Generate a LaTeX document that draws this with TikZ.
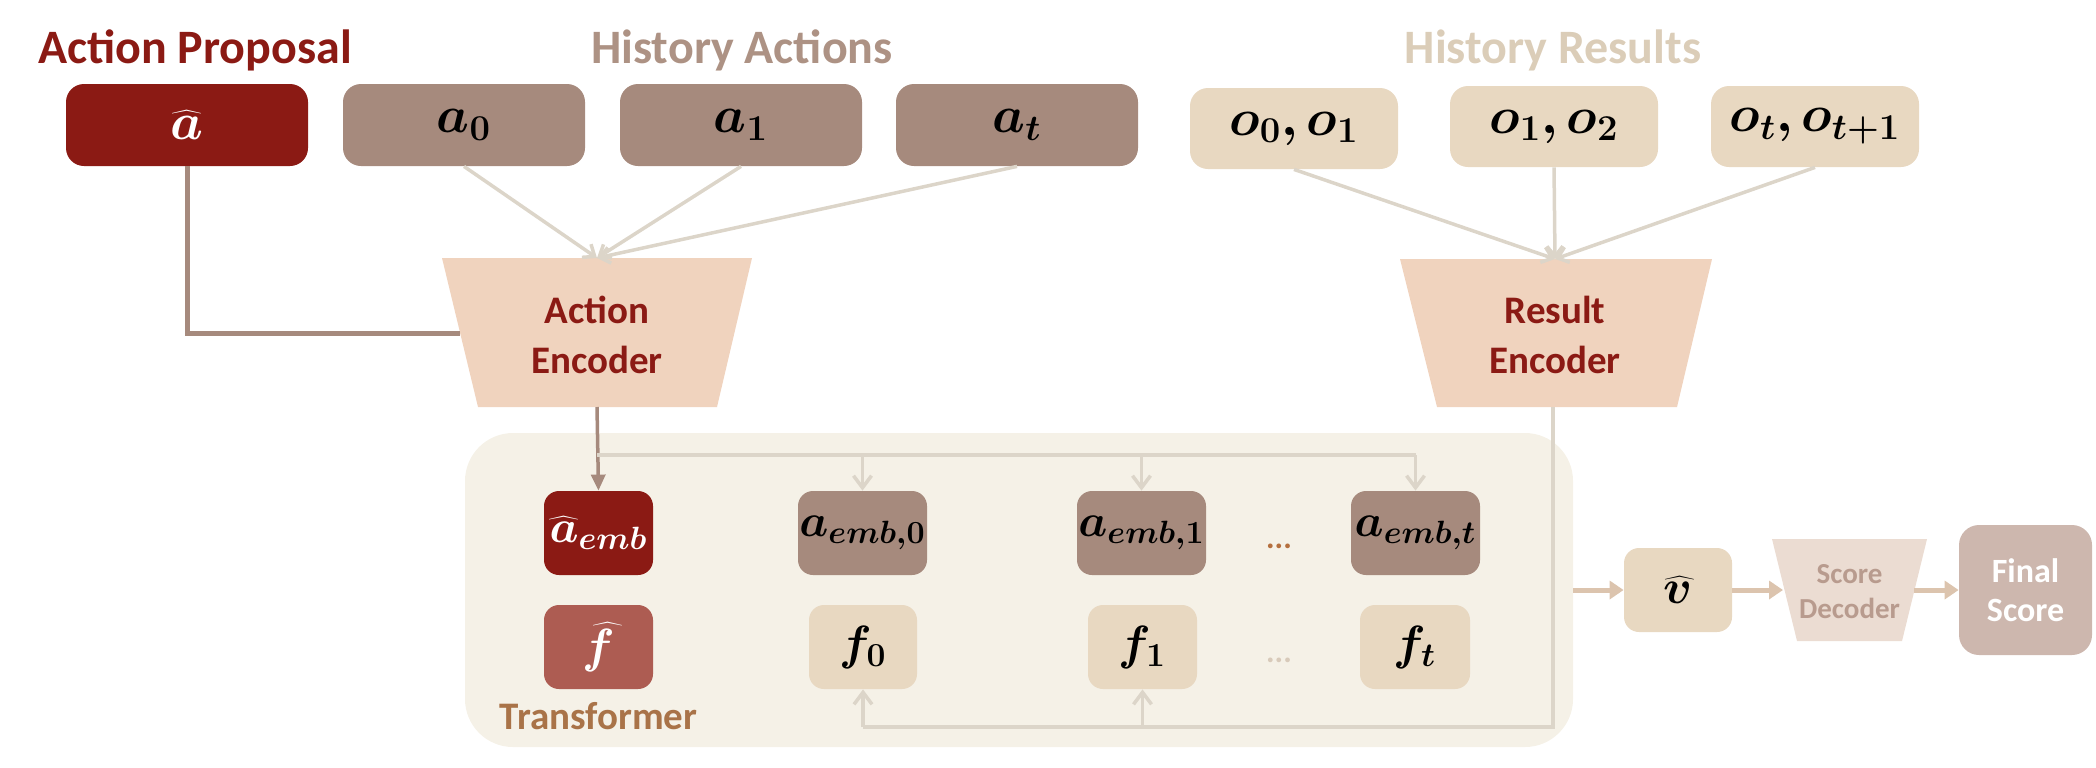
\RequirePackage{fix-cm}
\documentclass[tikz,border=0pt]{standalone}
\usepackage{fontspec}
\setmainfont{Carlito}
\usepackage{bm}
\usetikzlibrary{arrows.meta}
\definecolor{dred}{HTML}{8B1A14}
\definecolor{bbrown}{HTML}{A68A7D}
\definecolor{hacttext}{HTML}{AD9284}
\definecolor{beige}{HTML}{E8D8C1}
\definecolor{hrestext}{HTML}{DBCDB8}
\definecolor{encfill}{HTML}{F0D3BE}
\definecolor{transbg}{HTML}{F5F1E7}
\definecolor{fhatfill}{HTML}{AD5C52}
\definecolor{transtext}{HTML}{A97348}
\definecolor{lightarr}{HTML}{DCD5C9}
\definecolor{tanarr}{HTML}{DCC4AE}
\definecolor{decfill}{HTML}{EBDCD2}
\definecolor{dectext}{HTML}{B89B8E}
\definecolor{finalfill}{HTML}{CDB7AE}
\definecolor{dotstop}{HTML}{B5703F}
\definecolor{dotsbot}{HTML}{D8CABA}
\begin{document}
\begin{tikzpicture}[x=0.5pt,y=-0.5pt,
  box/.style={rounded corners=9pt, inner sep=0pt, align=center},
  topbox/.style={box, minimum width=121pt, minimum height=41pt, font=\fontsize{26}{30}\selectfont},
  resbox/.style={box, minimum width=104pt, minimum height=40.5pt, fill=beige, font=\fontsize{26}{30}\selectfont},
  inbox/.style={box, rounded corners=7.5pt, minimum height=42pt, font=\fontsize{23}{27}\selectfont},
  title/.style={anchor=base, inner sep=0pt, font=\fontsize{24}{28}\selectfont\bfseries},
  enctext/.style={align=center, text=dred, inner sep=0pt, font=\fontsize{19.5}{25}\selectfont\bfseries},
  lightline/.style={draw=lightarr, line width=1.75pt},
  lightarrow/.style={lightline, -{Straight Barb[length=6pt,width=9pt,line width=1.75pt]}},
  toparrow/.style={lightline, -{Straight Barb[length=5pt,width=8pt,line width=1.75pt]}},
  brownline/.style={draw=bbrown, line width=2.5pt},
  brownarrow/.style={draw=bbrown, line width=1.75pt, -{Triangle[length=8pt,width=7pt]}},
  tanarrow/.style={draw=tanarr, line width=2.5pt, -{Triangle[length=7pt,width=9pt]}}
]
\useasboundingbox (0,0) rectangle (2096,767);

% titles
\node[title, text=dred] (tprop) at (195,63) {Action Proposal};
\node[title, text=hacttext] (tact) at (742,63) {History Actions};
\node[title, text=hrestext] (tres) at (1553,63) {History Results};

% top boxes
\node[topbox, fill=dred, text=white] (ahat) at (187,125) {$\bm{\widehat{a}}$};
\node[topbox, fill=bbrown] (a0) at (464,125) {$\bm{a_0}$};
\node[topbox, fill=bbrown] (a1) at (741,125) {$\bm{a_1}$};
\node[topbox, fill=bbrown] (at) at (1017,125) {$\bm{a_t}$};
\node[resbox] (o01) at (1294,128.5) {$\bm{o_0, o_1}$};
\node[resbox] (o12) at (1554,126.5) {$\bm{o_1, o_2}$};
\node[resbox] (ot) at (1815,126.5) {$\bm{o_t, o_{t+1}}$};

% encoders
\fill[encfill] (442,258) -- (752,258) -- (717,407) -- (478,407) -- cycle;
\node[enctext] (actenc) at (597,335) {Action\\Encoder};
\coordinate (actTop) at (597,258);
\coordinate (actBot) at (597,407);
\coordinate (actL) at (460,333);

\fill[encfill] (1400,259) -- (1712,259) -- (1677,407) -- (1437,407) -- cycle;
\node[enctext] (resenc) at (1555,335) {Result\\Encoder};
\coordinate (resTop) at (1555,259);
\coordinate (resBot) at (1553,407);

% connectors to encoders
\draw[brownline] (ahat.south) -- (ahat.south |- actL) -- (actL);
\foreach \n in {a0,a1,at} \draw[toparrow] (\n.south) -- (actTop);
\foreach \n in {o01,o12,ot} \draw[toparrow] (\n.south) -- (resTop);

% transformer
\node[fill=transbg, rounded corners=24pt, minimum width=554pt, minimum height=157pt, inner sep=0pt] (trans) at (1019,590) {};
\node[anchor=base, inner sep=0pt, text=transtext, font=\fontsize{19.5}{25}\selectfont\bfseries] (ttrans) at (598.5,729) {Transformer};

\node[inbox, fill=dred, text=white, minimum width=54.5pt] (ahatemb) at (598.5,533) {$\bm{\widehat{a}_{emb}}$};
\node[inbox, fill=bbrown, minimum width=64.5pt] (aemb0) at (862.5,533) {$\bm{a_{emb,0}}$};
\node[inbox, fill=bbrown, minimum width=64.5pt] (aemb1) at (1141.5,533) {$\bm{a_{emb,1}}$};
\node[inbox, fill=bbrown, minimum width=64.5pt] (aembt) at (1415.5,533) {$\bm{a_{emb,t}}$};
\node[anchor=base, inner sep=0pt, text=dotstop, font=\fontsize{16}{18}\selectfont\bfseries] (dtop) at (1279,548) {...};

\node[inbox, fill=fhatfill, text=white, minimum width=54.5pt, font=\fontsize{24}{28}\selectfont] (fhat) at (598.5,647) {$\bm{\widehat{f}}$};
\node[inbox, fill=beige, minimum width=54pt, font=\fontsize{24}{28}\selectfont] (f0) at (863,647) {$\bm{f_0}$};
\node[inbox, fill=beige, minimum width=54.5pt, font=\fontsize{24}{28}\selectfont] (f1) at (1142.5,647) {$\bm{f_1}$};
\node[inbox, fill=beige, minimum width=55pt, font=\fontsize{24}{28}\selectfont] (ft) at (1415,647) {$\bm{f_t}$};
\node[anchor=base, inner sep=0pt, text=dotsbot, font=\fontsize{16}{18}\selectfont\bfseries] (dbot) at (1279,662) {...};

% action encoder output
\coordinate (brY) at (0,455);
\draw[brownarrow] (actBot) -- (ahatemb.north);
\draw[lightline] (actBot |- brY) -- (aembt.north |- brY);
\foreach \n in {aemb0,aemb1,aembt} \draw[lightarrow] (\n.north |- brY) -- (\n.north);

% result encoder output
\coordinate (blY) at (0,727);
\draw[lightline] (resBot) -- (resBot |- blY) -- (f0.south |- blY);
\foreach \n in {f0,f1} \draw[lightarrow] (\n.south |- blY) -- (\n.south);

% right chain
\node[inbox, fill=beige, minimum width=54pt, font=\fontsize{24}{28}\selectfont] (vhat) at (1678,590) {$\bm{\widehat{v}}$};
\fill[decfill] (1772,539) -- (1927,539) -- (1902,641) -- (1797,641) -- cycle;
\node[align=center, inner sep=0pt, text=dectext, font=\fontsize{14.5}{17.5}\selectfont\bfseries] (dec) at (1849.5,592) {Score\\Decoder};
\coordinate (decW) at (1783,590);
\coordinate (decE) at (1914,590);
\node[box, rounded corners=10pt, fill=finalfill, text=white, minimum width=66.5pt, minimum height=65pt, font=\fontsize{17}{19.5}\selectfont\bfseries] (final) at (2025.5,590) {Final\\Score};

\draw[tanarrow] (trans.east) -- (vhat.west);
\draw[tanarrow] (vhat.east) -- (decW);
\draw[tanarrow] (decE) -- (final.west);
\end{tikzpicture}
\end{document}
